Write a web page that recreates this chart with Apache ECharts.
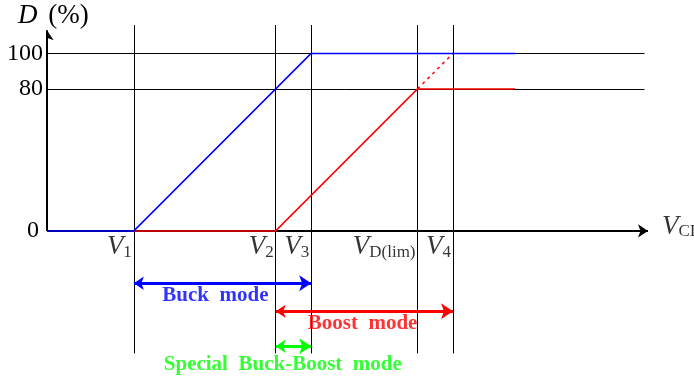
<!DOCTYPE html>
<html>
<head>
<meta charset="utf-8">
<script src="https://cdn.jsdelivr.net/npm/echarts@6/dist/echarts.min.js"></script>
<style>
html, body { margin: 0; padding: 0; background: #fff; }
#main { width: 694px; height: 380px; }
</style>
</head>
<body>
<div id="main"></div>
<script>
// 横轴上的电压点
var vNames = ['1', '2', '3', 'D(lim)', '4'];
var vPos = [49, 129, 149, 209, 229];
// 纵轴刻度
var yTicks = [0, 80, 100];
var levels = [80, 100];
// 占空比曲线
var blueLine = [[0, 0], [49, 0], [149, 100], [264, 100]];
var redLine = [[49, 0], [129, 0], [209, 80], [264, 80]];
var redDash = [[209, 80], [229, 100]];
// 工作模式区间
var modeNames = ['Buck  mode', 'Boost  mode', 'Special  Buck-Boost  mode'];
var modeColors = ['#0000ff', '#ff0000', '#00ff00'];
var modeFrom = [49, 129, 129];
var modeTo = [149, 229, 149];
var modeArrowY = [-29.5, -45.3, -65];
var modeTextX = [95, 178, 133];
var modeTextY = [-36.3, -52, -75.5];

var serif = 'Liberation Serif';
var richV = {
  v: { fontFamily: serif, fontSize: 27, fontStyle: 'italic', color: '#000' },
  s: { fontFamily: serif, fontSize: 17, color: '#000', verticalAlign: 'bottom' }
};
var chart = echarts.init(document.getElementById('main'));

var series = [
  {
    type: 'lines', coordinateSystem: 'cartesian2d', silent: true, z: 1,
    lineStyle: { color: '#000', width: 1, opacity: 1 },
    data: vPos.map(function (x) { return { coords: [[x, -69], [x, 116]] }; })
  },
  {
    type: 'lines', coordinateSystem: 'cartesian2d', silent: true, z: 1,
    lineStyle: { color: '#000', width: 1, opacity: 1 },
    data: levels.map(function (y) { return { coords: [[0, y], [337, y]] }; })
  },
  {
    // 坐标轴
    type: 'lines', coordinateSystem: 'cartesian2d', silent: true, z: 3,
    symbol: ['none', 'arrow'], symbolSize: [7, 10],
    lineStyle: { color: '#000', width: 2, opacity: 1 },
    data: [{ coords: [[0, 0], [0, 113]] }, { coords: [[0, 0], [339, 0]] }]
  },
  {
    type: 'line', data: redLine, showSymbol: false, silent: true, z: 4,
    lineStyle: { color: '#ff0000', width: 1.5 }
  },
  {
    type: 'line', data: redDash, showSymbol: false, silent: true, z: 4,
    lineStyle: { color: '#ff0000', width: 1.5, type: [3, 4] }
  },
  {
    type: 'line', data: blueLine, showSymbol: false, silent: true, z: 5,
    lineStyle: { color: '#0000ff', width: 1.5 }
  },
  {
    // 横轴电压标注
    type: 'scatter', silent: true, symbolSize: 0, z: 6,
    data: vPos.map(function (x, i) { return { value: [x, 0], name: vNames[i] }; }),
    label: {
      show: true, position: [-2, 3], align: 'right', verticalAlign: 'top',
      formatter: function (p) { return '{v|V}{s|' + p.name + '}'; },
      rich: richV
    }
  },
  {
    type: 'scatter', silent: true, symbolSize: 0, z: 6,
    data: [{ value: [339, 0], name: 'CI' }],
    label: {
      show: true, position: [14, -4], align: 'left', verticalAlign: 'middle',
      formatter: function (p) { return '{v|V}{s|' + p.name + '}'; },
      rich: richV
    }
  }
];

modeNames.forEach(function (name, i) {
  series.push({
    type: 'lines', coordinateSystem: 'cartesian2d', silent: true, z: 6,
    symbol: ['arrow', 'arrow'], symbolSize: [10, 12],
    lineStyle: { color: modeColors[i], width: 3, opacity: 1 },
    data: [{ coords: [[modeFrom[i], modeArrowY[i]], [modeTo[i], modeArrowY[i]]] }]
  });
  series.push({
    type: 'scatter', silent: true, symbolSize: 0, z: 6,
    data: [[modeTextX[i], modeTextY[i]]],
    label: {
      show: true, position: 'inside', formatter: name,
      color: modeColors[i], fontFamily: serif, fontWeight: 'bold', fontSize: 21
    }
  });
});

chart.setOption({
  animation: false,
  title: {
    text: '{d|D} (%)', left: 18, top: 2, padding: 0,
    textStyle: {
      fontFamily: serif, fontSize: 27, fontWeight: 'normal', color: '#000',
      rich: { d: { fontFamily: serif, fontSize: 27, fontStyle: 'italic', color: '#000', padding: [0, 4, 0, 0] } }
    }
  },
  grid: { left: 47, right: 46, top: 25, bottom: 0, outerBoundsMode: 'none' },
  xAxis: {
    type: 'value', min: 0, max: 339, show: false
  },
  yAxis: {
    type: 'value', min: -84, max: 116,
    axisLine: { show: false },
    axisTick: { show: false },
    splitLine: { show: false },
    axisLabel: {
      customValues: yTicks, margin: 4,
      fontFamily: serif, fontSize: 24, color: '#000',
      formatter: function (val) { return val === 0 ? '{z|0}' : String(val); },
      rich: { z: { fontFamily: serif, fontSize: 24, color: '#000', padding: [0, 4, 0, 0] } }
    }
  },
  series: series
});
</script>
</body>
</html>
